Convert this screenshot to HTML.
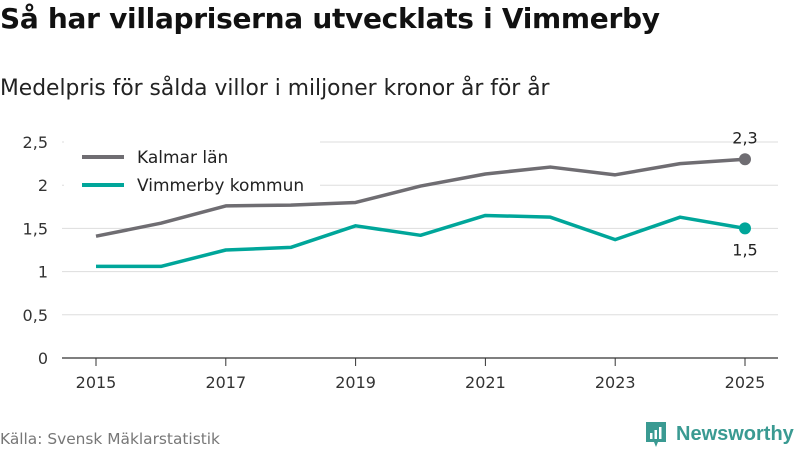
<!DOCTYPE html>
<html><head><meta charset="utf-8"><style>
body{margin:0;width:800px;height:450px;background:#fff;font-family:"DejaVu Sans","Liberation Sans",sans-serif;overflow:hidden;position:relative}
.t{position:absolute;left:0;top:2px;font-size:28px;font-weight:bold;color:#111;letter-spacing:-0.3px;white-space:nowrap}
.s{position:absolute;left:0;top:76px;font-size:21.8px;color:#222;white-space:nowrap}
.src{position:absolute;left:0;top:430px;font-size:15.4px;color:#777}
.logo{position:absolute;left:644px;top:420px;display:flex;align-items:center;gap:8px;color:#3a9a92;font-size:20px;font-weight:bold;font-family:"Liberation Sans",sans-serif}
</style></head><body>
<div class="t">Så har villapriserna utvecklats i Vimmerby</div>
<div class="s">Medelpris för sålda villor i miljoner kronor år för år</div>
<svg id="c" width="800" height="450" style="position:absolute;left:0;top:0"></svg>
<div class="src">Källa: Svensk Mäklarstatistik</div>
<div class="logo"><svg width="24" height="28" viewBox="0 0 24 28"><path d="M2 2h20v20h-8l-2 5-2-5H2z" fill="#3a9a92"/><rect x="6" y="13" width="2.5" height="6" fill="#fff"/><rect x="10.5" y="10" width="2.5" height="9" fill="#fff"/><rect x="15" y="7" width="2.5" height="12" fill="#fff"/></svg><span>Newsworthy</span></div>
<script>
const years=[2015,2016,2017,2018,2019,2020,2021,2022,2023,2024,2025];
const kalmar=[1.41,1.56,1.76,1.77,1.80,1.99,2.13,2.21,2.12,2.25,2.30];
const vimmerby=[1.06,1.06,1.25,1.28,1.53,1.42,1.65,1.63,1.37,1.63,1.50];
const yTicks=[0,0.5,1,1.5,2,2.5];
const xTicks=[2015,2017,2019,2021,2023,2025];
const svg=document.getElementById('c');const NS='http://www.w3.org/2000/svg';
const x=v=>96+(v-2015)*(745-96)/10, y=v=>358-v*86.4;
const fmt=v=>String(v).replace('.',',');
function mk(t,a,p){const e=document.createElementNS(NS,t);for(const k in a)e.setAttribute(k,a[k]);(p||svg).appendChild(e);return e;}
yTicks.forEach(v=>{
 const l=mk('line',{x1:62,x2:778,y1:y(v),y2:y(v),stroke:v===0?'#333':'#ddd','stroke-width':v===0?1.2:1});
 
 
 const t=mk('text',{x:48,y:y(v)+6,'text-anchor':'end','font-size':16,fill:'#333'});t.textContent=fmt(v);
 
 
});
xTicks.forEach(v=>{
 const l=mk('line',{x1:x(v),x2:x(v),y1:358,y2:366,stroke:'#333'});
 
 
 const t=mk('text',{x:x(v),y:388,'text-anchor':'middle','font-size':16,fill:'#333'});t.textContent=v;
 
 
});
const lg=mk('rect',{x:64,y:138,width:256,height:62,fill:'#fff'});


function series(vals,col,name,labelDy){
 const p=mk('polyline',{points:vals.map((v,i)=>x(years[i])+','+y(v)).join(' '),fill:'none',stroke:col,'stroke-width':3.5,'stroke-linejoin':'round'});
 
 
 const n=vals.length-1;
 const c=mk('circle',{cx:x(years[n]),cy:y(vals[n]),r:6,fill:col});
 
 
 const t=mk('text',{x:x(years[n]),y:y(vals[n])+labelDy,'text-anchor':'middle','font-size':16,fill:'#222'});t.textContent=fmt(vals[n]);
 
 
}
series(kalmar,'#6f6d72','kalmar',-16);
series(vimmerby,'#00a69a','vimmerby',27);
[['Kalmar län','#6f6d72',157],['Vimmerby kommun','#00a69a',185]].forEach(([lab,col,yy])=>{
 const l=mk('line',{x1:82,x2:124,y1:yy,y2:yy,stroke:col,'stroke-width':4});
 
 
 const t=mk('text',{x:137,y:yy+6,'font-size':17,fill:'#222'});t.textContent=lab;
 
 
});
</script>
</body></html>
